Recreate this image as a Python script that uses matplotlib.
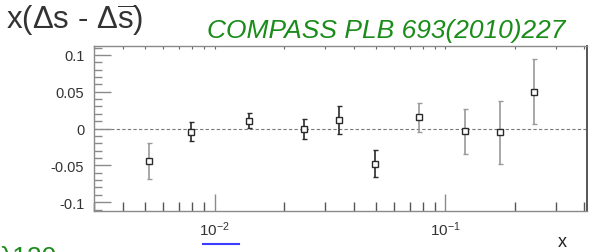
import matplotlib

matplotlib.use("Agg")

import numpy as np
from matplotlib import pyplot as plt
from matplotlib.lines import Line2D
from matplotlib.ticker import FixedLocator, LogLocator, LogFormatterMathtext, NullFormatter

plt.rcParams.update(
    {
        "font.family": ["Liberation Sans", "DejaVu Sans"],
        "mathtext.fontset": "custom",
        "mathtext.rm": "Liberation Sans",
        "mathtext.it": "Liberation Sans:italic",
        "mathtext.bf": "Liberation Sans:bold",
    }
)

# data
x_vals = [0.0052, 0.0079, 0.0141, 0.0245, 0.0347, 0.0493, 0.0769, 0.1217, 0.173, 0.2427]
y_vals = [-0.044, -0.0045, 0.0108, -0.0005, 0.0117, -0.0477, 0.0153, -0.004, -0.005, 0.050]
y_errs = [0.024, 0.013, 0.0105, 0.014, 0.019, 0.018, 0.0196, 0.030, 0.043, 0.044]
bar_dark = [False, True, True, True, True, True, False, False, False, False]

y_ticks = [-0.1, -0.05, 0.0, 0.05, 0.1]
y_ticklabels = ["-0.1", "-0.05", "0", "0.05", "0.1"]

frame_col = "#8a8a8a"
text_col = "#333333"
green = "#1a8c1a"

fig = plt.figure(figsize=(5.97, 2.53), dpi=100)
ax = fig.add_axes([0.1575, 0.162, 0.8255, 0.652])

ax.axhline(0, color="#7a7a7a", linestyle=(0, (3, 2)), linewidth=0.8, zorder=1)

for xv, yv, ev, dark in zip(x_vals, y_vals, y_errs, bar_dark):
    ax.errorbar(
        xv, yv, yerr=ev,
        fmt="none",
        ecolor="#2a2a2a" if dark else "#9a9a9a",
        elinewidth=1.2,
        capsize=1.8,
        capthick=1.0,
        zorder=2,
    )
ax.plot(
    x_vals, y_vals, "s",
    markersize=4.5,
    markerfacecolor="white",
    markeredgecolor="#2a2a2a",
    markeredgewidth=1.0,
    linestyle="none",
    zorder=3,
)

ax.set_xscale("log")
ax.set_xlim(0.003, 0.41)
ax.set_ylim(-0.112, 0.112)

for side in ["left", "bottom", "top"]:
    ax.spines[side].set_color(frame_col)
    ax.spines[side].set_linewidth(1.0)
ax.spines["right"].set_color("#555555")
ax.spines["right"].set_linewidth(1.4)

ax.xaxis.set_major_locator(LogLocator(base=10, numticks=10))
ax.xaxis.set_minor_locator(LogLocator(base=10, subs=np.arange(2, 10), numticks=20))
ax.xaxis.set_major_formatter(LogFormatterMathtext())
ax.xaxis.set_minor_formatter(NullFormatter())
ax.tick_params(axis="x", which="major", direction="in", length=12, width=1.0,
               color=frame_col, pad=6, labelsize=11, labelcolor=text_col,
               top=False)
ax.tick_params(axis="x", which="minor", direction="in", length=6.5, width=1.0,
               color="#555555", top=False)

ax.yaxis.set_major_locator(FixedLocator(y_ticks))
ax.set_yticklabels(y_ticklabels)
ax.yaxis.set_minor_locator(FixedLocator(np.arange(-0.11, 0.111, 0.01)))
ax.tick_params(axis="y", which="major", direction="in", length=12, width=1.0,
               color=frame_col, pad=7, labelsize=10.5, labelcolor=text_col,
               right=False)
ax.tick_params(axis="y", which="minor", direction="in", length=6, width=1.0,
               color=frame_col, right=False)

top = ax.secondary_xaxis("top")
top.tick_params(which="both", direction="in", length=2.5, width=0.8,
                color="#666666", labeltop=False)
top.xaxis.set_minor_formatter(NullFormatter())
top.spines["top"].set_visible(False)

# texts around the frame
fig.text(6 / 597, 1 - 29 / 253, r"x($\Delta$s - $\Delta\overline{\mathrm{s}}$)",
         fontsize=22.5, color=text_col, ha="left", va="baseline")
fig.text(207 / 597, 1 - 38 / 253, "COMPASS PLB 693(2010)227",
         fontsize=19, color=green, style="italic", ha="left", va="baseline")
fig.text(562 / 597, 1 - 242.5 / 253, "x", fontsize=13, color="#222222",
         ha="center", va="center")
fig.text(0, 1 - 246 / 253, "λ120", fontsize=19, color=green,
         ha="left", va="top")
fig.add_artist(Line2D([203 / 597, 239 / 597], [1 - 245 / 253, 1 - 245 / 253],
                      color="#3c3cff", linewidth=1.5))

fig.savefig("out.png", dpi=100)
plt.close(fig)
